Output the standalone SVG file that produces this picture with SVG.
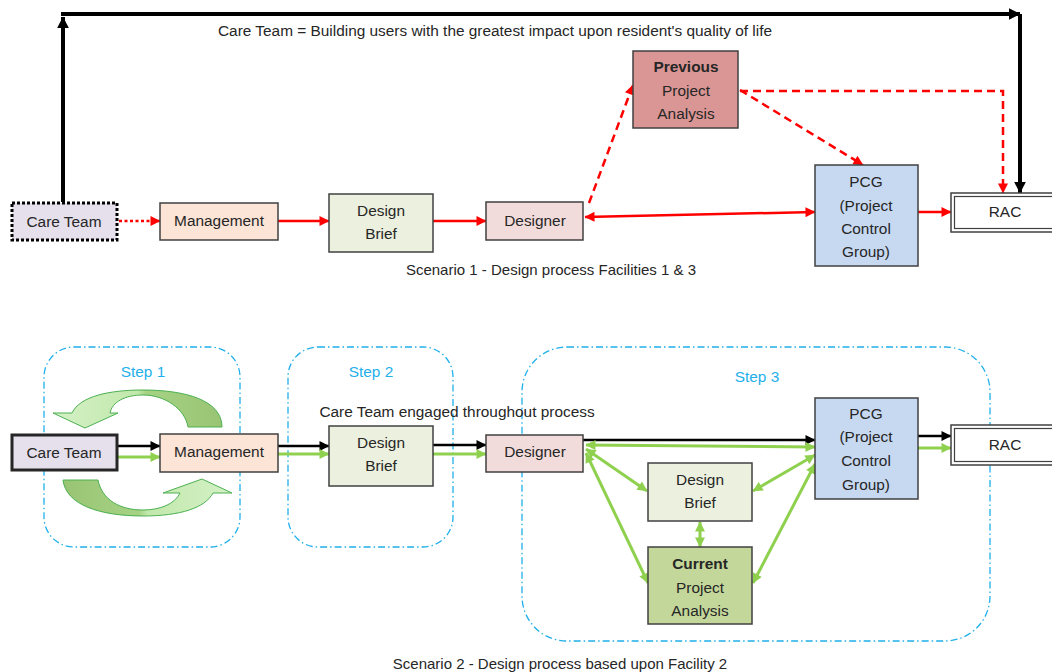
<svg xmlns="http://www.w3.org/2000/svg" width="1052" height="672" viewBox="0 0 1052 672">
<style>
text{font-family:"Liberation Sans",Arial,sans-serif;font-size:15.4px;fill:#262626;text-anchor:middle}
.b{font-weight:bold}
.cap{font-size:15px}
.box{stroke:#404040;stroke-width:1.5}
.step{fill:none;stroke:#1fb0ea;stroke-width:1.3;stroke-dasharray:7 3 1.5 3}
.stept{fill:#1fb0ea}
.red{stroke:#ff0000;stroke-width:2.5;fill:none}
.blk{stroke:#000;stroke-width:2.5;fill:none}
.grn{stroke:#8fd14f;stroke-width:3;fill:none}
</style>
<defs>
<marker id="ar" viewBox="0 0 10 10" refX="9.5" refY="5" markerWidth="11" markerHeight="10" markerUnits="userSpaceOnUse" orient="auto-start-reverse"><path d="M0,0L10,5L0,10z" fill="#ff0000"/></marker>
<marker id="ab" viewBox="0 0 10 10" refX="9.5" refY="5" markerWidth="11" markerHeight="10" markerUnits="userSpaceOnUse" orient="auto-start-reverse"><path d="M0,0L10,5L0,10z" fill="#000"/></marker>
<marker id="abig" viewBox="0 0 10 10" refX="9.5" refY="5" markerWidth="12" markerHeight="12" markerUnits="userSpaceOnUse" orient="auto-start-reverse"><path d="M0,0L10,5L0,10z" fill="#000"/></marker>
<marker id="ag" viewBox="0 0 10 10" refX="9.5" refY="5" markerWidth="11" markerHeight="10" markerUnits="userSpaceOnUse" orient="auto-start-reverse"><path d="M0,0L10,5L0,10z" fill="#8fd14f"/></marker>
<linearGradient id="gTop" x1="0" y1="0" x2="1" y2="0"><stop offset="0" stop-color="#d4f1c6"/><stop offset="0.5" stop-color="#c2e8ac"/><stop offset="0.55" stop-color="#a6d284"/><stop offset="1" stop-color="#98c473"/></linearGradient>
<linearGradient id="gBot" x1="0" y1="0" x2="1" y2="0"><stop offset="0" stop-color="#98c473"/><stop offset="0.45" stop-color="#a6d284"/><stop offset="0.5" stop-color="#c2e8ac"/><stop offset="1" stop-color="#d4f1c6"/></linearGradient>
</defs>

<!-- Scenario 1 -->
<g id="connectors1">
<path d="M63,202V17" stroke="#000" stroke-width="4" fill="none" marker-end="url(#abig)"/>
<path d="M61,14H1020" stroke="#000" stroke-width="4" fill="none" marker-end="url(#abig)"/>
<path d="M1020,14V193" stroke="#000" stroke-width="4" fill="none" marker-end="url(#abig)"/>
<path d="M119,221H160" class="red" stroke-dasharray="3 2.5" marker-end="url(#ar)"/>
<path d="M278,221H329" class="red" marker-end="url(#ar)"/>
<path d="M433,221H486" class="red" marker-end="url(#ar)"/>
<path d="M585,217L815,212" class="red" marker-start="url(#ar)" marker-end="url(#ar)"/>
<path d="M918,212H951" class="red" marker-end="url(#ar)"/>
<path d="M589,203L633,85" class="red" stroke-dasharray="8 5" marker-end="url(#ar)"/>
<path d="M740,90L863,165" class="red" stroke-dasharray="8 5" marker-end="url(#ar)"/>
<path d="M740,91H1003V193" class="red" stroke-dasharray="8 5" marker-end="url(#ar)"/>
</g>
<text x="495" y="36">Care Team = Building users with the greatest impact upon resident's quality of life</text>
<g id="s1-careteam"><rect x="12" y="203" width="105" height="37" fill="#e5e0ec" stroke="#000" stroke-width="3" stroke-dasharray="3 2"/><text x="64" y="227">Care Team</text></g>
<g id="s1-management"><rect x="160" y="203" width="118" height="37" fill="#fce4d6" class="box"/><text x="219" y="226">Management</text></g>
<g id="s1-designbrief"><rect x="329" y="194" width="104" height="58" fill="#ebf1de" class="box"/><text x="381" y="216">Design</text><text x="381" y="239">Brief</text></g>
<g id="s1-designer"><rect x="486" y="202" width="97" height="38" fill="#f2dcdb" class="box"/><text x="535" y="226">Designer</text></g>
<g id="s1-previous"><rect x="633" y="51" width="105" height="77" fill="#da9694" class="box"/><text x="686" y="72" class="b">Previous</text><text x="686" y="96">Project</text><text x="686" y="119">Analysis</text></g>
<g id="s1-pcg"><rect x="815" y="165" width="103" height="101" fill="#c6d9f1" class="box"/><text x="866" y="187">PCG</text><text x="866" y="211">(Project</text><text x="866" y="234">Control</text><text x="866" y="257">Group)</text></g>
<g id="s1-rac"><rect x="951" y="193" width="110" height="39" fill="#fff" stroke="#404040" stroke-width="1.5"/><rect x="954.5" y="196.5" width="110" height="32" fill="none" stroke="#404040" stroke-width="1.2"/><text x="1005" y="217">RAC</text></g>
<text x="551" y="275" class="cap">Scenario 1 - Design process Facilities 1 &amp; 3</text>

<!-- Scenario 2 -->
<g id="steps">
<rect x="44" y="347" width="196" height="200" rx="30" class="step"/>
<rect x="288" y="347" width="165" height="200" rx="30" class="step"/>
<rect x="522" y="347" width="468" height="294" rx="45" class="step"/>
<text x="143" y="377" class="stept">Step 1</text>
<text x="371" y="377" class="stept">Step 2</text>
<text x="757" y="382" class="stept">Step 3</text>
</g>
<g id="cycle">
<path d="M72,413C80,396 110,390 143,390C185,390 222,400 222,427L188,427C185,409 165,395 143,395C125,395 112,402 110,413L118,413L85,428L53,413Z" fill="url(#gTop)" stroke="#4cb050" stroke-width="1"/>
<path d="M63,480L98,480C102,500 120,510 143,510C160,510 175,504 180,493L163,493L202,479L232,493L213,493C205,508 180,516 143,516C100,516 66,505 63,480Z" fill="url(#gBot)" stroke="#4cb050" stroke-width="1"/>
</g>
<text x="457" y="417">Care Team engaged throughout process</text>
<g id="connectors2">
<path d="M117,446H160" class="blk" marker-end="url(#ab)"/>
<path d="M117,457H160" class="grn" marker-end="url(#ag)"/>
<path d="M278,446H329" class="blk" marker-end="url(#ab)"/>
<path d="M278,454H329" class="grn" marker-end="url(#ag)"/>
<path d="M433,445H486" class="blk" marker-end="url(#ab)"/>
<path d="M433,454H486" class="grn" marker-end="url(#ag)"/>
<path d="M583,440H815" class="blk" marker-end="url(#ab)"/>
<path d="M586,445L815,447" class="grn" marker-start="url(#ag)" marker-end="url(#ag)"/>
<path d="M918,436H951" class="blk" marker-end="url(#ab)"/>
<path d="M918,448H951" class="grn" marker-end="url(#ag)"/>
<path d="M586,449L647,491" class="grn" marker-start="url(#ag)" marker-end="url(#ag)"/>
<path d="M586,453L648,583" class="grn" marker-start="url(#ag)" marker-end="url(#ag)"/>
<path d="M700,522V547" class="grn" marker-start="url(#ag)" marker-end="url(#ag)"/>
<path d="M753,491L815,455" class="grn" marker-start="url(#ag)" marker-end="url(#ag)"/>
<path d="M753,583L815,464" class="grn" marker-start="url(#ag)" marker-end="url(#ag)"/>
</g>
<g id="s2-careteam"><rect x="12" y="435" width="105" height="35" fill="#e5e0ec" stroke="#262626" stroke-width="3"/><text x="64" y="458">Care Team</text></g>
<g id="s2-management"><rect x="160" y="434" width="118" height="38" fill="#fce4d6" class="box"/><text x="219" y="457">Management</text></g>
<g id="s2-designbrief"><rect x="329" y="426" width="104" height="60" fill="#ebf1de" class="box"/><text x="381" y="448">Design</text><text x="381" y="471">Brief</text></g>
<g id="s2-designer"><rect x="486" y="435" width="97" height="37" fill="#f2dcdb" class="box"/><text x="535" y="457">Designer</text></g>
<g id="s2-pcg"><rect x="815" y="398" width="103" height="101" fill="#c6d9f1" class="box"/><text x="866" y="419">PCG</text><text x="866" y="442">(Project</text><text x="866" y="466">Control</text><text x="866" y="490">Group)</text></g>
<g id="s2-rac"><rect x="951" y="425" width="110" height="40" fill="#fff" stroke="#404040" stroke-width="1.5"/><rect x="954.5" y="428.5" width="110" height="33" fill="none" stroke="#404040" stroke-width="1.2"/><text x="1005" y="450">RAC</text></g>
<g id="s2-designbrief2"><rect x="648" y="463" width="104" height="58" fill="#ebf1de" class="box"/><text x="700" y="485">Design</text><text x="700" y="508">Brief</text></g>
<g id="s2-current"><rect x="648" y="547" width="104" height="77" fill="#c4d79b" class="box"/><text x="700" y="569" class="b">Current</text><text x="700" y="593">Project</text><text x="700" y="616">Analysis</text></g>
<text x="560" y="669" class="cap">Scenario 2 - Design process based upon Facility 2</text>
</svg>
